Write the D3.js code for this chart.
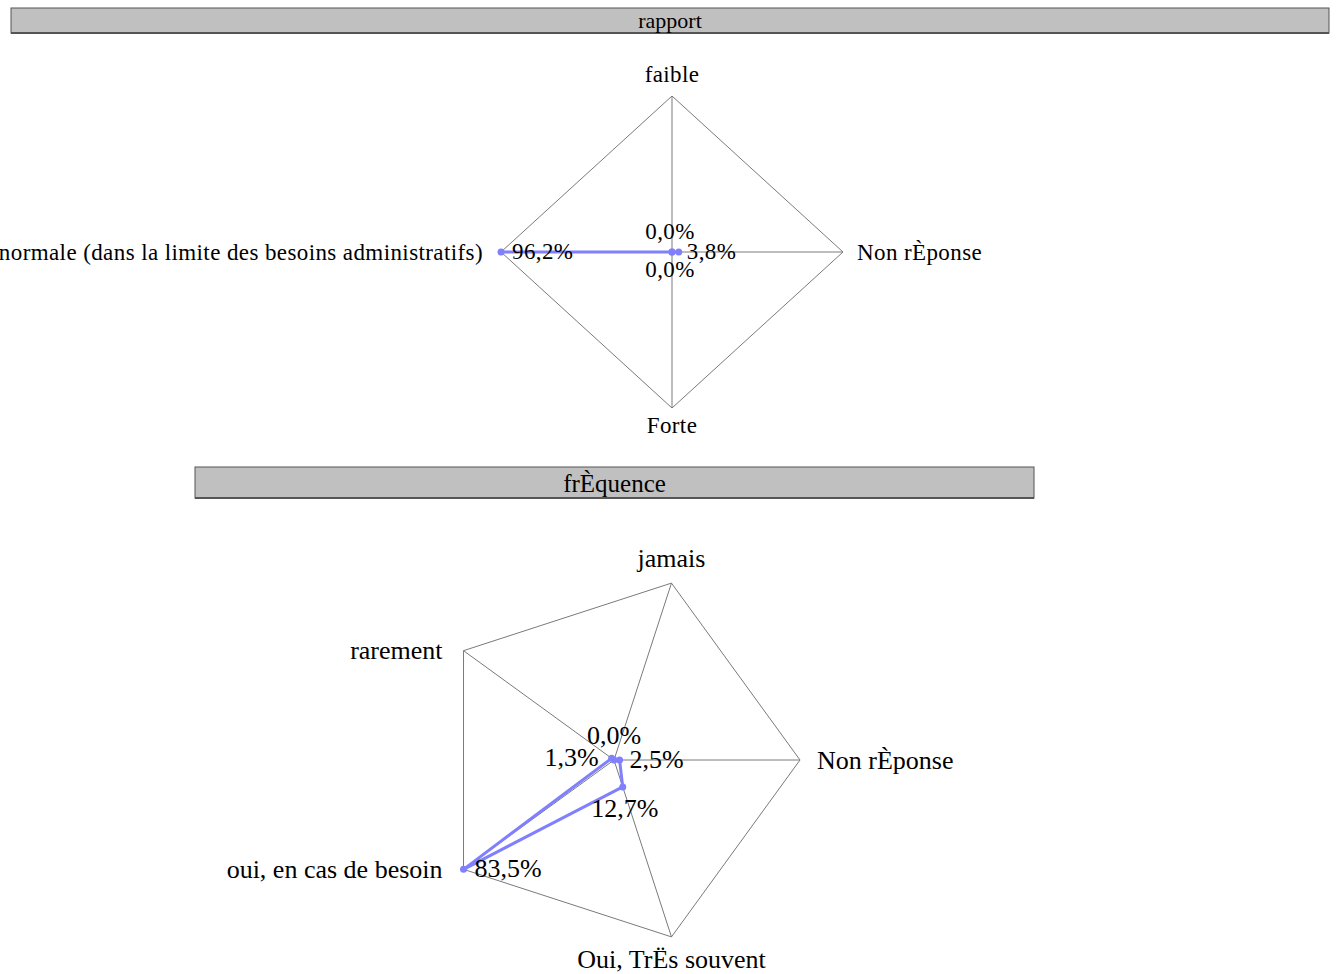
<!DOCTYPE html>
<html lang="fr">
<head>
<meta charset="utf-8">
<script src="https://d3js.org/d3.v7.min.js"></script>
<style>
    body { margin: 0; background: #fff; }
    svg { display: block; font-family: "Liberation Serif", "Times New Roman", serif; }
</style>
</head>
<body>
<div id="chart"></div>
<script>
// rapport
const rapportCategories = ["Non rÈponse", "Forte", "normale (dans la limite des besoins administratifs)", "faible"];
const rapportValues = [3.8, 0.0, 96.2, 0.0];

// frÈquence
const frequenceCategories = ["Non rÈponse", "Oui, TrËs souvent", "oui, en cas de besoin", "rarement", "jamais"];
const frequenceValues = [2.5, 12.7, 83.5, 1.3, 0.0];

const width = 1338, height = 974;
const svg = d3.select("#chart").append("svg")
    .attr("width", width)
    .attr("height", height);

function titleBar(x, y, w, h, text, fs, baseline) {
    svg.append("rect")
        .attr("x", x).attr("y", y).attr("width", w).attr("height", h)
        .attr("fill", "#c0c0c0")
        .attr("stroke", "#555")
        .attr("stroke-width", 1);
    svg.append("line")
        .attr("x1", x).attr("x2", x + w).attr("y1", y + h).attr("y2", y + h)
        .attr("stroke", "#555").attr("stroke-width", 2);
    svg.append("text")
        .attr("x", x + w / 2)
        .attr("y", baseline)
        .attr("text-anchor", "middle")
        .attr("font-size", fs)
        .attr("fill", "#000")
        .text(text);
}

function fmt(v) {
    return d3.format(".1f")(v).replace(".", ",") + "%";
}

// o: center, rx/ry radius, fs font size, valueOffsets per category [dx, dy, anchor]
function drawRadar(categories, values, o) {
    const n = categories.length;
    const g = svg.append("g")
        .attr("transform", `translate(${o.cx},${o.cy})`)
        .attr("letter-spacing", o.spacing);
    const r = d3.scaleLinear().domain([0, d3.max(values)]).range([0, 1]);
    const angle = i => (i / n) * 2 * Math.PI; // first axis to the right, clockwise
    const pos = (i, k) => [Math.cos(angle(i)) * o.rx * k, Math.sin(angle(i)) * o.ry * k];

    // frame
    const outer = d3.range(n).map(i => pos(i, 1));
    g.append("path")
        .attr("d", d3.line()(outer) + "Z")
        .attr("fill", "none")
        .attr("stroke", "#7a7a7a")
        .attr("stroke-width", 1);
    outer.forEach(p => {
        g.append("line")
            .attr("x1", 0).attr("y1", 0).attr("x2", p[0]).attr("y2", p[1])
            .attr("stroke", "#7a7a7a").attr("stroke-width", 1);
    });

    // axis labels
    categories.forEach((c, i) => {
        const [x, y] = pos(i, 1);
        const ca = Math.cos(angle(i)), sa = Math.sin(angle(i));
        let tx = x, ty, anchor = "middle";
        if (Math.abs(ca) > 0.35) {
            anchor = ca > 0 ? "start" : "end";
            tx = x + (ca > 0 ? o.sidePad : -o.leftPad);
            ty = y + o.fs * 0.33;
        } else if (sa < 0) {
            ty = y - o.topPad;
        } else {
            ty = y + o.bottomPad;
        }
        g.append("text")
            .attr("x", tx).attr("y", ty)
            .attr("text-anchor", anchor)
            .attr("font-size", o.fs)
            .text(c);
    });

    // data
    const pts = values.map((v, i) => pos(i, r(v)));
    g.append("path")
        .attr("d", d3.line()(pts) + "Z")
        .attr("fill", "none")
        .attr("stroke", "#8080ff")
        .attr("stroke-width", 3);
    g.selectAll(".dot").data(pts).enter().append("circle")
        .attr("cx", d => d[0]).attr("cy", d => d[1])
        .attr("r", 3.5)
        .attr("fill", "#8080ff");

    values.forEach((v, i) => {
        const [x, y] = pts[i];
        const off = o.valueOffsets[i];
        g.append("text")
            .attr("x", x + off[0]).attr("y", y + off[1])
            .attr("text-anchor", off[2])
            .attr("font-size", o.fs)
            .text(fmt(v));
    });
}

titleBar(11, 8, 1318, 25, "rapport", 22, 28);
drawRadar(rapportCategories, rapportValues, {
    cx: 672, cy: 252, rx: 171, ry: 156, fs: 23, spacing: 0.4,
    sidePad: 14, leftPad: 18, topPad: 14, bottomPad: 25,
    valueOffsets: [[8, 7, "start"], [-2, 25, "middle"], [11, 7, "start"], [-2, -13, "middle"]]
});

titleBar(195, 467, 839, 31, "frÈquence", 25, 492);
drawRadar(frequenceCategories, frequenceValues, {
    cx: 614, cy: 760, rx: 186, ry: 186, fs: 26, spacing: 0,
    sidePad: 17, leftPad: 21, topPad: 16, bottomPad: 31,
    valueOffsets: [[10, 8, "start"], [2, 30, "middle"], [11, 8, "start"], [-13, 8, "end"], [0, -16, "middle"]]
});
</script>
</body>
</html>
